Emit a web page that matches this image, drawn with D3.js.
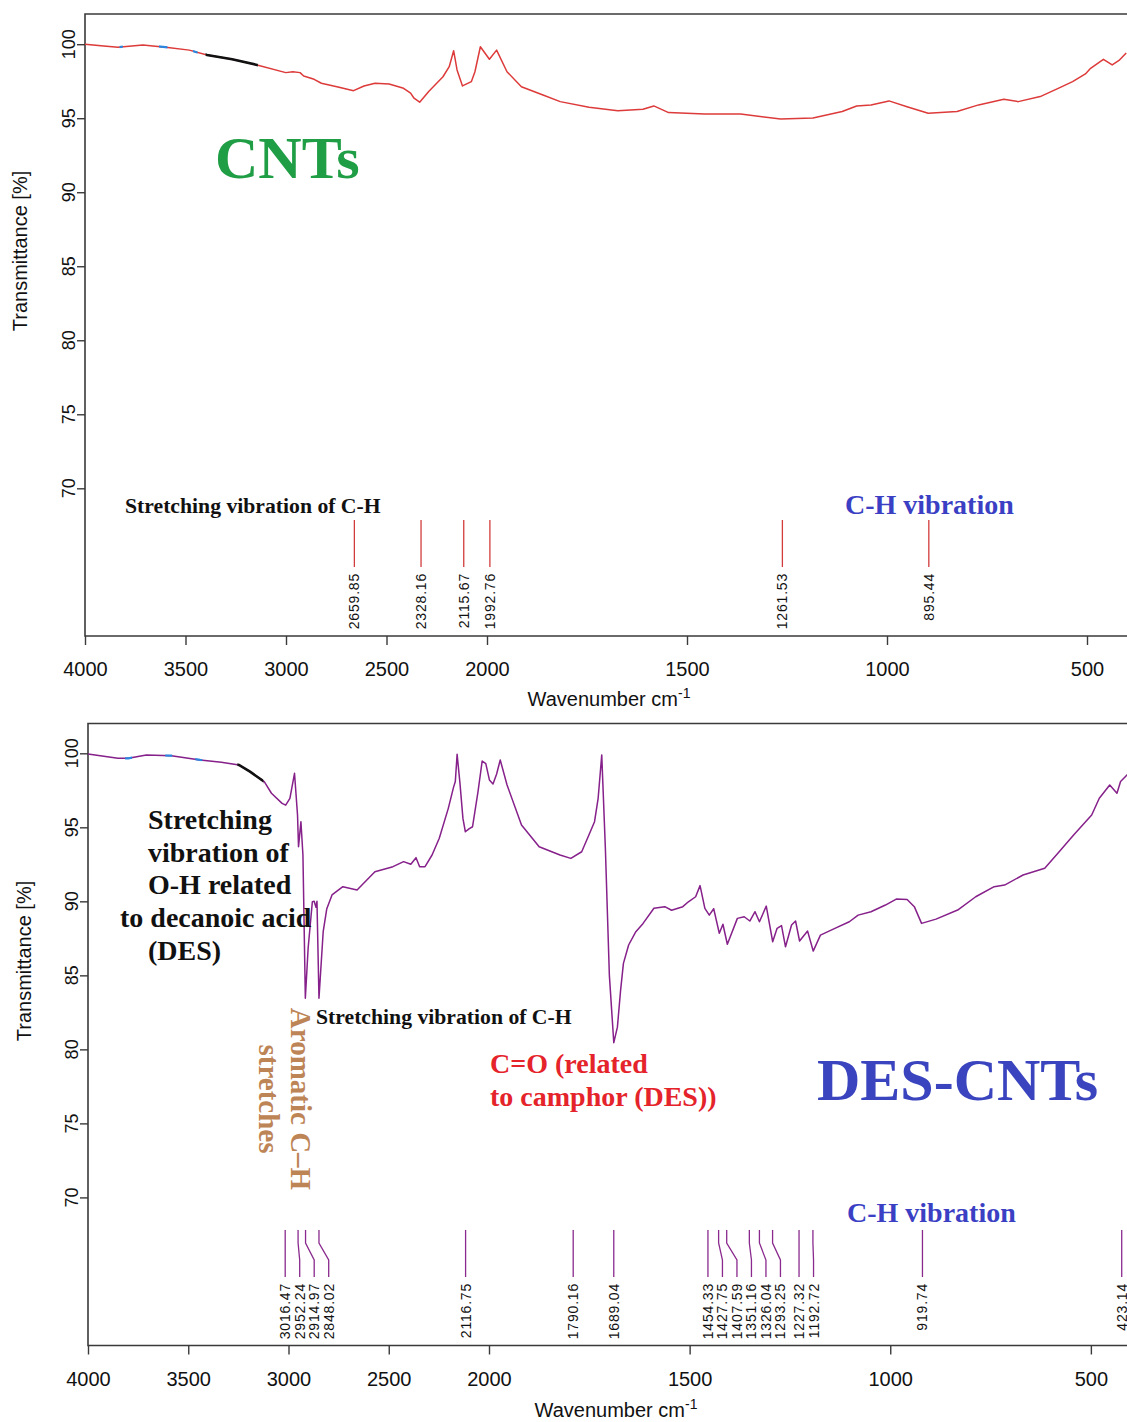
<!DOCTYPE html>
<html>
<head>
<meta charset="utf-8">
<script src="https://cdnjs.cloudflare.com/ajax/libs/d3/7.8.5/d3.min.js"></script>
<style>
body { margin: 0; background: #fff; }
svg { display: block; }
</style>
</head>
<body>
<script>
var w = 1127;
var h = 1422;

// CNTs spectrum (wavenumber, transmittance %)
var cntsWave = [4000, 3907, 3836, 3712, 3588, 3481, 3393, 3268, 3144, 3001, 2966, 2930, 2912, 2860, 2824, 2736, 2664, 2612, 2557, 2487,
    2415, 2380, 2363, 2335, 2290, 2219, 2188, 2166, 2149, 2122, 2078, 2060, 2033, 1994, 1976, 1950, 1914, 1860, 1817, 1745,
    1673, 1610, 1583, 1546, 1456, 1366, 1266, 1185, 1112, 1076, 1040, 995, 950, 897, 825, 771, 708, 672, 617, 572,
    536, 504, 491, 459, 437, 420, 402];
var cntsT = [100.0, 99.88, 99.8, 99.95, 99.78, 99.6, 99.27, 98.98, 98.6, 98.08, 98.14, 98.08, 97.85, 97.63, 97.36, 97.09, 96.86, 97.18, 97.36, 97.31,
    97.02, 96.69, 96.35, 96.08, 96.8, 97.8, 98.48, 99.56, 98.26, 97.18, 97.47, 98.14, 99.83, 98.98, 99.6, 98.14, 97.13, 96.57, 96.12, 95.74,
    95.51, 95.6, 95.83, 95.38, 95.29, 95.28, 94.95, 95.02, 95.45, 95.83, 95.9, 96.17, 95.78, 95.34, 95.45, 95.9, 96.28, 96.12, 96.46, 97.02,
    97.47, 97.99, 98.37, 98.98, 98.6, 98.9, 99.4];

// DES-CNTs spectrum
var desWave = [4000, 3851, 3798, 3709, 3584, 3441, 3335, 3247, 3192, 3121, 3085, 3032, 3014, 2993, 2970, 2955, 2950, 2938, 2928, 2916,
    2902, 2881, 2872, 2863, 2858, 2848, 2827, 2809, 2783, 2729, 2658, 2569, 2479, 2426, 2390, 2364, 2346, 2319, 2284, 2248,
    2203, 2177, 2168, 2159, 2145, 2130, 2118, 2100, 2082, 2055, 2034, 2016, 1999, 1990, 1981, 1972, 1955, 1919, 1875, 1823,
    1796, 1769, 1751, 1737, 1728, 1719, 1710, 1700, 1689, 1680, 1672, 1665, 1652, 1634, 1616, 1589, 1562, 1545, 1517, 1503,
    1485, 1474, 1462, 1451, 1440, 1426, 1417, 1406, 1381, 1364, 1350, 1337, 1326, 1309, 1293, 1282, 1271, 1261, 1246, 1236,
    1226, 1206, 1192, 1174, 1138, 1102, 1080, 1048, 1012, 985, 958, 940, 922, 886, 832, 787, 741, 715, 669, 615,
    579, 543, 498, 479, 453, 435, 426, 410, 400];
var desT = [99.95, 99.66, 99.66, 99.89, 99.84, 99.55, 99.4, 99.21, 98.76, 98.08, 97.3, 96.62, 96.5, 96.96, 98.65, 95.83, 93.69, 95.38, 93.13, 83.45,
    86.85, 89.97, 90.0, 89.6, 90.0, 83.45, 87.95, 89.5, 90.43, 90.99, 90.76, 92.0, 92.34, 92.68, 92.5, 92.95, 92.34, 92.34, 93.13, 94.26,
    96.28, 97.7, 98.1, 99.93, 98.0, 95.6, 94.7, 94.9, 95.04, 97.4, 99.48, 99.3, 98.2, 97.93, 98.6, 99.55, 97.86, 95.15, 93.69, 93.13,
    92.9, 93.35, 94.48, 95.38, 96.96, 99.89, 93.6, 85.0, 80.45, 81.5, 84.0, 85.81, 87.05, 87.95, 88.51, 89.53, 89.64, 89.4, 89.64, 89.97,
    90.31, 91.06, 89.53, 89.07, 89.5, 87.84, 88.45, 87.1, 88.85, 88.96, 88.67, 89.3, 88.62, 89.68, 87.27, 88.18, 88.36, 86.93, 88.4, 88.67,
    87.32, 87.99, 86.64, 87.72, 88.17, 88.62, 89.07, 89.3, 89.75, 90.15, 90.13, 89.64, 88.51, 88.8, 89.41, 90.31, 90.99, 91.1, 91.78, 92.23,
    93.35, 94.48, 95.83, 96.96, 97.86, 97.3, 98.1, 98.54, 98.7];

var cntsPeaks = [2659.85, 2328.16, 2115.67, 1992.76, 1261.53, 895.44];
var desPeaks = [3016.47, 2952.24, 2914.97, 2848.02, 2116.75, 1790.16, 1689.04, 1454.33, 1427.75, 1407.59,
    1351.16, 1326.04, 1293.25, 1227.32, 1192.72, 919.74, 423.14];

var xTicks = [4000, 3500, 3000, 2500, 2000, 1500, 1000, 500];
var yTicks = [70, 75, 80, 85, 90, 95, 100];

// bits of the trace that show in other colours
var cntsBlue = [[3828, 3812], [3632, 3590], [3463, 3440]];
var cntsBlack = [[3400, 3140]];
var desBlue = [[3815, 3780], [3615, 3580], [3465, 3430]];
var desBlack = [[3255, 3125]];

var sans = "'Liberation Sans', Arial, sans-serif";
var serif = "'Liberation Serif', 'Times New Roman', serif";

var svg = d3.select("body")
    .append("svg")
    .attr("width", w)
    .attr("height", h);

var clipCount = 0;

function drawPanel(p) {
    var g = svg.append("g");
    var x = d3.scaleLinear().domain([4000, 2000, 400]).range([p.left, p.x2000, p.x400]);
    var y = d3.scaleLinear().domain([70, 100]).range([p.y70, p.y100]);

    // box (right side runs off the picture)
    g.append("path")
        .attr("d", "M" + (w + 20) + "," + p.top + "H" + p.left + "V" + p.bottom + "H" + (w + 20))
        .attr("fill", "none")
        .attr("stroke", "#3a3a3a")
        .attr("stroke-width", 1.6);

    // x axis
    var xa = g.append("g")
        .attr("transform", "translate(0," + p.bottom + ")")
        .call(d3.axisBottom(x).tickValues(xTicks).tickSize(9).tickSizeOuter(0).tickFormat(d3.format("d")));
    xa.select(".domain").remove();
    xa.selectAll("line").attr("stroke", "#3a3a3a").attr("stroke-width", 1.4);
    xa.selectAll("text")
        .attr("y", 40)
        .attr("dy", 0)
        .attr("fill", "#111")
        .style("font-family", sans)
        .style("font-size", "20px");

    // y axis
    var ya = g.append("g")
        .attr("transform", "translate(" + p.left + ",0)")
        .call(d3.axisLeft(y).tickValues(yTicks).tickSize(8).tickFormat(""));
    ya.select(".domain").remove();
    ya.selectAll("line").attr("stroke", "#3a3a3a").attr("stroke-width", 1.4);
    g.selectAll(".ylab")
        .data(yTicks)
        .enter()
        .append("text")
        .attr("transform", function(d) {
            return "translate(" + (p.left - 10) + "," + y(d) + ") rotate(-90)";
        })
        .attr("text-anchor", "middle")
        .attr("fill", "#111")
        .style("font-family", sans)
        .style("font-size", "18px")
        .text(function(d) { return d; });

    g.append("text")
        .attr("transform", "translate(" + p.yTitleX + "," + p.yTitleY + ") rotate(-90)")
        .attr("text-anchor", "middle")
        .attr("fill", "#111")
        .style("font-family", sans)
        .style("font-size", "20px")
        .text("Transmittance [%]");

    var xt = g.append("text")
        .attr("x", p.xTitleX)
        .attr("y", p.xTitleY)
        .attr("text-anchor", "middle")
        .attr("fill", "#111")
        .style("font-family", sans)
        .style("font-size", "20px");
    xt.append("tspan").text("Wavenumber cm");
    xt.append("tspan").attr("dy", -8).style("font-size", "14px").text("-1");

    // spectrum
    var pts = d3.zip(p.wave, p.trans);
    var line = d3.line()
        .x(function(d) { return x(d[0]); })
        .y(function(d) { return y(d[1]); });

    g.append("path")
        .attr("d", line(pts))
        .attr("fill", "none")
        .attr("stroke", p.color)
        .attr("stroke-width", 1.5)
        .attr("stroke-linejoin", "round");

    function overlay(ranges, col, sw) {
        ranges.forEach(function(r) {
            var id = "clip" + (clipCount++);
            svg.append("clipPath").attr("id", id)
                .append("rect")
                .attr("x", x(r[0]))
                .attr("y", p.top)
                .attr("width", x(r[1]) - x(r[0]))
                .attr("height", p.bottom - p.top);
            g.append("path")
                .attr("d", line(pts))
                .attr("clip-path", "url(#" + id + ")")
                .attr("fill", "none")
                .attr("stroke", col)
                .attr("stroke-width", sw);
        });
    }
    overlay(p.blue, "#2b86e0", 2.2);
    overlay(p.black, "#111", 2.6);

    // peak markers, labels pushed apart where they crowd
    var gap = 14.5;
    var pos = [];
    p.peaks.forEach(function(d, i) {
        var px = x(d);
        if (i > 0 && px < pos[i - 1] + gap) px = pos[i - 1] + gap;
        pos.push(px);
    });
    var mk = p.markTop;
    g.selectAll(".peak")
        .data(p.peaks)
        .enter()
        .append("path")
        .attr("d", function(d, i) {
            return "M" + x(d) + "," + mk + "V" + (mk + 13) + "L" + pos[i] + "," + (mk + 30) + "V" + (mk + 47);
        })
        .attr("fill", "none")
        .attr("stroke", p.markColor)
        .attr("stroke-width", 1.3);
    g.selectAll(".plab")
        .data(p.peaks)
        .enter()
        .append("text")
        .attr("transform", function(d, i) {
            return "translate(" + (pos[i] + 5) + "," + (mk + 53) + ") rotate(-90)";
        })
        .attr("text-anchor", "end")
        .attr("fill", "#111")
        .style("font-family", sans)
        .style("font-size", "14px")
        .style("letter-spacing", "0.8px")
        .text(function(d) { return d3.format(".2f")(d); });

    return g;
}

var topPanel = drawPanel({
    left: 85, x2000: 487, x400: 1127, top: 14, bottom: 636,
    y70: 488.3, y100: 44.2,
    yTitleX: 27, yTitleY: 251, xTitleX: 609, xTitleY: 706,
    wave: cntsWave, trans: cntsT, color: "#dd3a3a",
    blue: cntsBlue, black: cntsBlack,
    peaks: cntsPeaks, markTop: 520, markColor: "#d23c3c"
});

var bottomPanel = drawPanel({
    left: 88, x2000: 489, x400: 1131, top: 723.5, bottom: 1345.5,
    y70: 1197.4, y100: 753.3,
    yTitleX: 31, yTitleY: 961, xTitleX: 616, xTitleY: 1417,
    wave: desWave, trans: desT, color: "#86208a",
    blue: desBlue, black: desBlack,
    peaks: desPeaks, markTop: 1230, markColor: "#8a2a8e"
});

// annotations
function note(g, txt, x, y, size, col) {
    return g.append("text")
        .attr("x", x)
        .attr("y", y)
        .attr("fill", col)
        .style("font-family", serif)
        .style("font-weight", "bold")
        .style("font-size", size + "px")
        .text(txt);
}

note(topPanel, "CNTs", 215, 178, 60, "#1f9e45");
note(topPanel, "Stretching vibration of C-H", 125, 513, 21.7, "#111");
note(topPanel, "C-H vibration", 845, 514, 28, "#3b3fc4");

note(bottomPanel, "Stretching", 148, 829, 28, "#111");
note(bottomPanel, "vibration of", 148, 862, 28, "#111");
note(bottomPanel, "O-H related", 148, 894, 28, "#111");
note(bottomPanel, "to decanoic acid", 120, 927, 28, "#111");
note(bottomPanel, "(DES)", 148, 960, 28, "#111");
note(bottomPanel, "Stretching vibration of C-H", 316, 1024, 21.7, "#111");
note(bottomPanel, "C=O (related", 490, 1073, 28, "#e5232a");
note(bottomPanel, "to camphor (DES))", 490, 1106, 28, "#e5232a");
note(bottomPanel, "DES-CNTs", 817, 1100, 60, "#3a44be");
note(bottomPanel, "C-H vibration", 847, 1222, 28, "#3b3fc4");

var arom = bottomPanel.append("text")
    .attr("transform", "translate(291,1099) rotate(90)")
    .attr("text-anchor", "middle")
    .attr("fill", "#bd8456")
    .style("font-family", serif)
    .style("font-weight", "bold")
    .style("font-size", "29px");
arom.append("tspan").attr("x", 0).attr("y", 0).text("Aromatic C\u2013H");
arom.append("tspan").attr("x", 0).attr("y", 32).text("stretches");
</script>
</body>
</html>
